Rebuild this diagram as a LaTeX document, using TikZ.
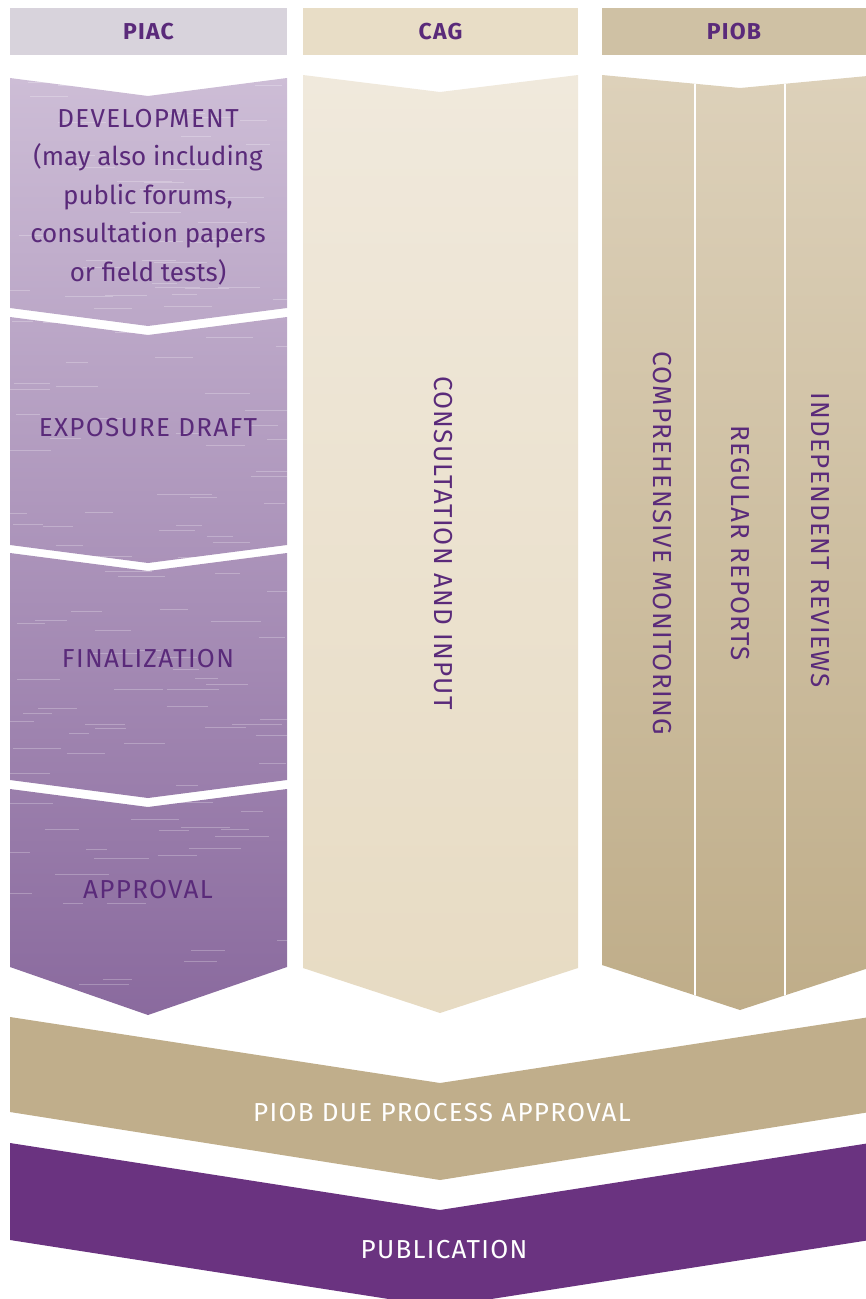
\documentclass[tikz,border=0pt]{standalone}
\usepackage{fontspec}
\setmainfont{Fira Sans}[LetterSpace=5]
\usetikzlibrary{positioning}

\definecolor{piachead}{HTML}{D8D3DC}
\definecolor{caghead}{HTML}{E8DDC6}
\definecolor{piobhead}{HTML}{CFC1A4}
\definecolor{piactop}{HTML}{CDBDD6}
\definecolor{piacbot}{HTML}{8A6A9E}
\definecolor{cagtop}{HTML}{F0E9DC}
\definecolor{cagbot}{HTML}{E7DBC3}
\definecolor{piobtop}{HTML}{DDD1BA}
\definecolor{piobbot}{HTML}{BFAD89}
\definecolor{duetan}{HTML}{C0AE8B}
\definecolor{pubpurple}{HTML}{6A3380}
\definecolor{txtpurple}{HTML}{5A2A7A}

\begin{document}
\begin{tikzpicture}[
    x=1pt, y=-1pt,
    hdr/.style={rectangle, minimum height=47pt, inner sep=0pt, text=txtpurple, font=\bfseries\fontsize{23}{26}\selectfont},
    stage/.style={text=txtpurple, align=center, font=\fontsize{26}{38.5}\selectfont},
    vlabel/.style={stage, rotate=-90},
    bandtext/.style={text=white, font=\fontsize{26}{30}\selectfont}
]
\useasboundingbox (0,0) rectangle (866,1299);
\clip (0,0) rectangle (866,1299);

% headers
\node[hdr, fill=piachead, minimum width=277pt] (piac) at (148.5,31.5) {PIAC};
\node[hdr, fill=caghead, minimum width=275pt] (cag) at (440.5,31.5) {CAG};
\node[hdr, fill=piobhead, minimum width=264pt] (piob) at (734,31.5) {PIOB};

% PIAC stages
\shade[top color=piactop, bottom color=piacbot]
    (10,78) -- (148,96) -- (287,78) -- (287,308) -- (148,326) -- (10,308) -- cycle
    (10,317) -- (148,335) -- (287,317) -- (287,545) -- (148,563) -- (10,545) -- cycle
    (10,553) -- (148,571) -- (287,553) -- (287,780) -- (148,798) -- (10,780) -- cycle
    (10,789) -- (148,807) -- (287,789) -- (287,967) -- (148,1015) -- (10,967) -- cycle;
\begin{scope}
  \clip (10,78) -- (148,96) -- (287,78) -- (287,967) -- (148,1015) -- (10,967) -- cycle;
  \pgfmathsetseed{11}
  \foreach \i in {1,...,140} {
    \pgfmathsetmacro\sx{rnd*280}
    \pgfmathsetmacro\sy{80+rnd*930}
    \pgfmathsetmacro\sl{20+rnd*35}
    \draw[white, opacity=0.25, line width=0.8pt] (\sx,\sy) -- ++(\sl,0);
  }
\end{scope}

% CAG column
\shade[top color=cagtop, bottom color=cagbot]
    (303,75) -- (440,92) -- (578,75) -- (578,968) -- (440,1013) -- (303,968) -- cycle;

% PIOB column
\shade[top color=piobtop, bottom color=piobbot]
    (602,75) -- (740,88) -- (878,75) -- (878,965) -- (740,1010) -- (602,965) -- cycle;
\begin{scope}
  \clip (602,75) -- (740,88) -- (878,75) -- (878,965) -- (740,1010) -- (602,965) -- cycle;
  \draw[white, line width=2pt] (695,60) -- (695,1020);
  \draw[white, line width=2pt] (785,60) -- (785,1020);
\end{scope}

% bottom bands
\fill[duetan] (10,1017) -- (440,1083) -- (870,1017) -- (870,1112) -- (440,1180) -- (10,1112) -- cycle;
\fill[pubpurple] (10,1143) -- (440,1210) -- (870,1143) -- (870,1240) -- (440,1307) -- (10,1240) -- cycle;

% labels
\node[stage] (develop) at (148,197) {DEVELOPMENT\\\addfontfeature{LetterSpace=0}(may also including\\\addfontfeature{LetterSpace=0}public forums,\\\addfontfeature{LetterSpace=0}consultation papers\\\addfontfeature{LetterSpace=0}or field tests)};
\node[stage] (exposure) at (148,428) {EXPOSURE DRAFT};
\node[stage] (final) at (148,659) {FINALIZATION};
\node[stage] (approve) at (148,890) {APPROVAL};

\node[vlabel] (consult) at (443,543) {CONSULTATION AND INPUT};
\node[vlabel] (monitor) at (662,543) {COMPREHENSIVE MONITORING};
\node[vlabel] (reports) at (740,543) {REGULAR REPORTS};
\node[vlabel] (reviews) at (820,540) {INDEPENDENT REVIEWS};

\node[bandtext] (due) at (442,1113) {PIOB DUE PROCESS APPROVAL};
\node[bandtext] (publish) at (444,1250) {PUBLICATION};

\end{tikzpicture}
\end{document}
